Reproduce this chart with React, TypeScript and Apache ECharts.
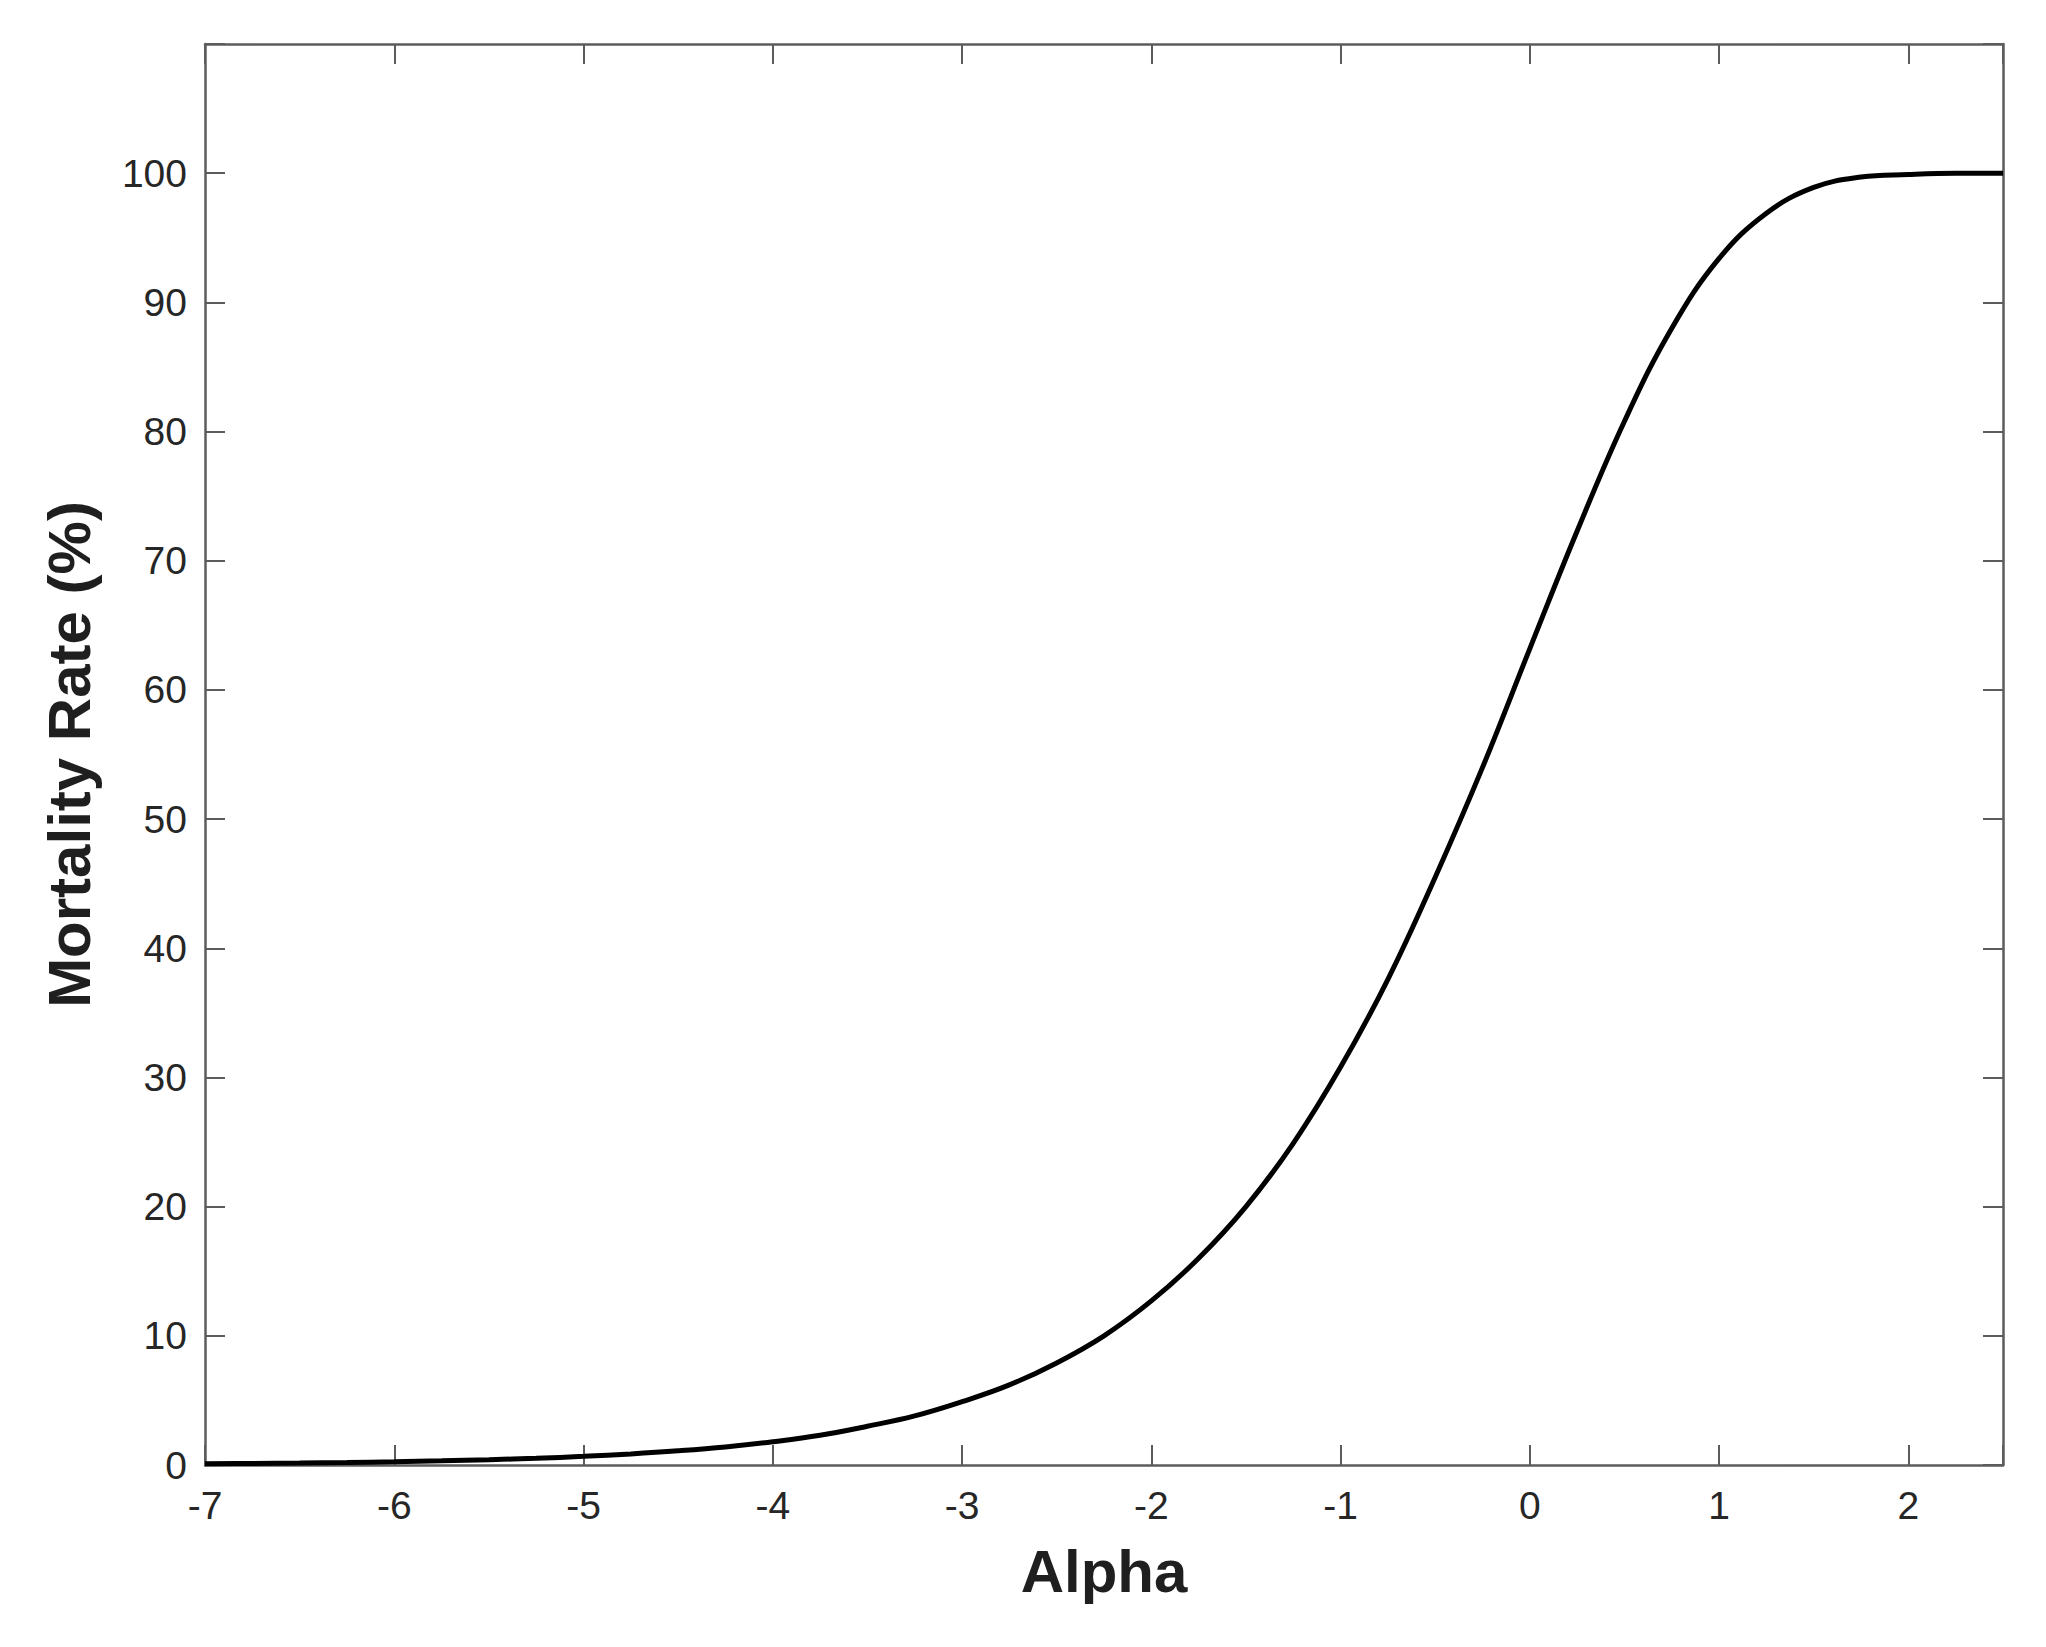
import React, { useEffect, useRef } from "react";
import * as echarts from "echarts";

const alpha = [
  -7, -6.75, -6.5, -6.25, -6, -5.75, -5.5, -5.25, -5, -4.75, -4.5, -4.25, -4,
  -3.75, -3.5, -3.25, -3, -2.75, -2.5, -2.25, -2, -1.75, -1.5, -1.25, -1, -0.75,
  -0.5, -0.25, 0, 0.25, 0.5, 0.75, 1, 1.25, 1.5, 1.75, 2, 2.25, 2.5,
];
const mortality = [
  0.09, 0.12, 0.15, 0.19, 0.25, 0.32, 0.41, 0.52, 0.67, 0.86, 1.1, 1.4, 1.8,
  2.3, 3.0, 3.8, 4.9, 6.2, 7.9, 10.0, 12.7, 16.0, 20.0, 24.9, 30.8, 37.6,
  45.5, 54.0, 63.2, 72.3, 80.8, 88.0, 93.4, 96.9, 98.9, 99.7, 99.9, 100.0, 100.0,
];
const xTickLabels = ["-7", "-6", "-5", "-4", "-3", "-2", "-1", "0", "1", "2"];
const yTickLabels = ["0", "10", "20", "30", "40", "50", "60", "70", "80", "90", "100"];

const AXIS_COLOR = "#5c5c5c";
const LABEL_COLOR = "#262626";
const FONT = "'Liberation Sans', Arial, Helvetica, sans-serif";

export default function App() {
  const ref = useRef<HTMLDivElement>(null);
  useEffect(() => {
    if (!ref.current) return;
    const chart = echarts.init(ref.current, null, { renderer: "svg" });
    const boxLine = { show: true, onZero: false, lineStyle: { color: AXIS_COLOR, width: 2.5 } };
    const tick = { show: true, inside: true, length: 20, lineStyle: { color: AXIS_COLOR, width: 2 } };
    const xFmt = (v: number) => {
      const s = String(v);
      return xTickLabels.includes(s) ? s : "";
    };
    const yFmt = (v: number) => {
      const s = String(v);
      return yTickLabels.includes(s) ? s : "";
    };
    chart.setOption({
      animation: false,
      backgroundColor: "#ffffff",
      grid: { left: 205, right: 43, top: 44, bottom: 182, containLabel: false },
      xAxis: [
        {
          type: "value",
          min: -7,
          max: 2.5,
          interval: 1,
          position: "bottom",
          axisLine: boxLine,
          axisTick: tick,
          splitLine: { show: false },
          axisLabel: {
            formatter: xFmt,
            color: LABEL_COLOR,
            fontSize: 39,
            fontFamily: FONT,
            margin: 21,
            showMaxLabel: true,
          },
          name: "Alpha",
          nameLocation: "middle",
          nameGap: 76,
          nameTextStyle: { fontSize: 60, fontWeight: "bold", color: "#1f1f1f", fontFamily: FONT },
        },
        {
          type: "value",
          min: -7,
          max: 2.5,
          interval: 1,
          position: "top",
          axisLine: boxLine,
          axisTick: tick,
          splitLine: { show: false },
          axisLabel: { show: false },
        },
      ],
      yAxis: [
        {
          type: "value",
          min: 0,
          max: 110,
          interval: 10,
          position: "left",
          axisLine: boxLine,
          axisTick: tick,
          splitLine: { show: false },
          axisLabel: {
            formatter: yFmt,
            color: LABEL_COLOR,
            fontSize: 39,
            fontFamily: FONT,
            margin: 18,
          },
          name: "Mortality Rate (%)",
          nameLocation: "middle",
          nameRotate: 90,
          nameGap: 106,
          nameTextStyle: { fontSize: 60, fontWeight: "bold", color: "#1f1f1f", fontFamily: FONT },
        },
        {
          type: "value",
          min: 0,
          max: 110,
          interval: 10,
          position: "right",
          axisLine: boxLine,
          axisTick: tick,
          splitLine: { show: false },
          axisLabel: { show: false },
        },
      ],
      series: [
        {
          type: "line",
          xAxisIndex: 0,
          yAxisIndex: 0,
          data: alpha.map((a, i) => [a, mortality[i]]),
          showSymbol: false,
          smooth: 0.4,
          clip: true,
          lineStyle: { color: "#000000", width: 5 },
        },
      ],
    });
    return () => chart.dispose();
  }, []);
  return (
    <div
      ref={ref}
      style={{ position: "absolute", left: 0, top: 0, width: 2046, height: 1647 }}
    />
  );
}
